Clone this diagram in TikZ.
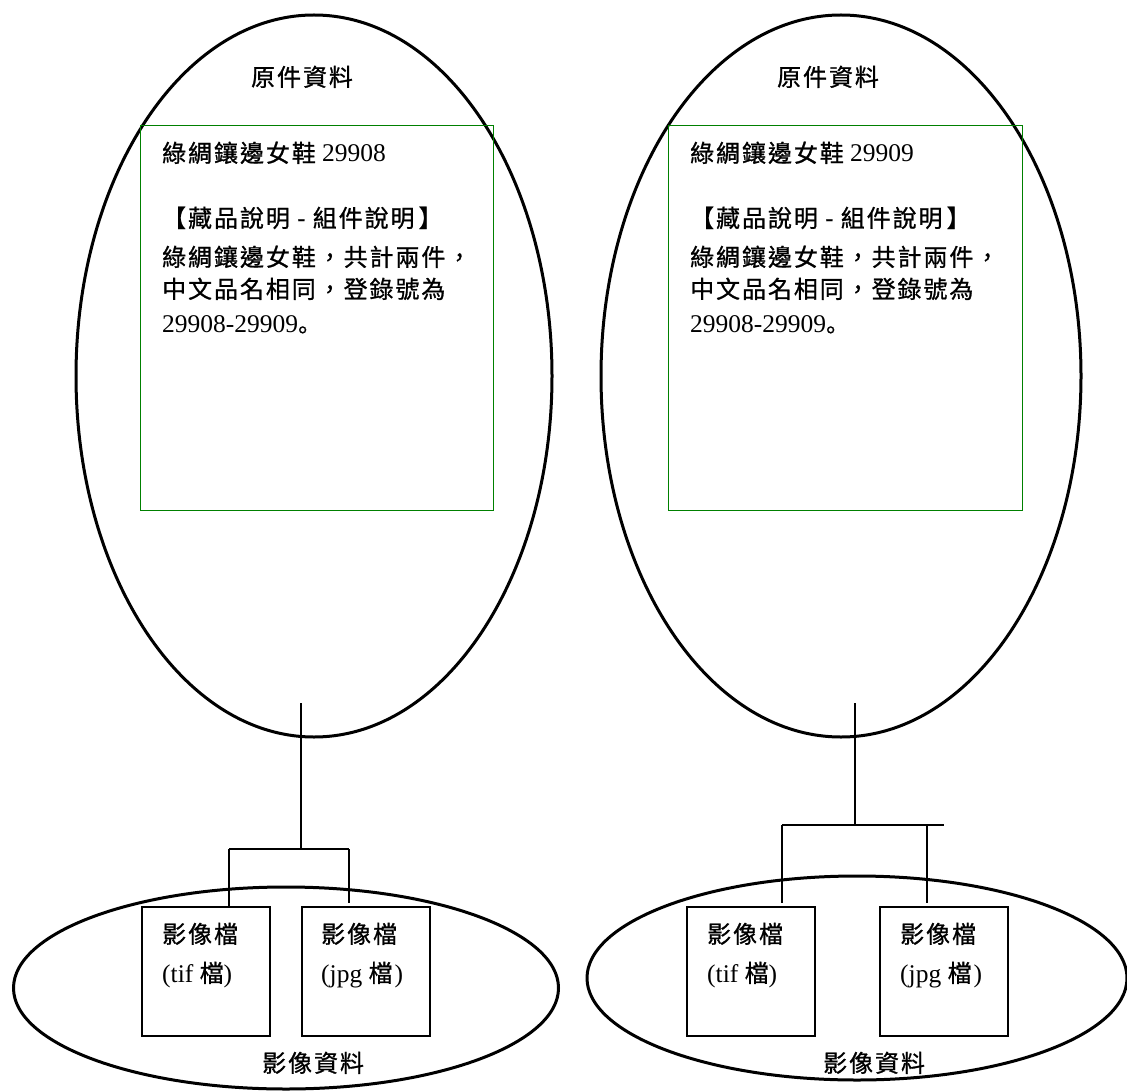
\documentclass[tikz,border=0pt]{standalone}
\usepackage{fontspec}
\setmainfont{Liberation Serif}
\newfontfamily\zhfont[LetterSpace=8,FakeBold=0.9]{Noto Sans CJK TC}
\newfontfamily\scfont[FakeBold=0.9]{Noto Sans CJK SC}
\newcommand\zh[1]{{\zhfont\fontsize{24}{30}\selectfont #1}}
\usetikzlibrary{shapes.geometric}
\definecolor{boxgreen}{RGB}{0,128,0}
\begin{document}
\begin{tikzpicture}[x=1pt,y=-1pt,
  oval/.style={draw, ellipse, line width=3pt, inner sep=0pt, outer sep=0pt},
  greenbox/.style={draw=boxgreen, line width=1.3pt, inner sep=0pt, anchor=north west},
  filebox/.style={draw, line width=1.5pt, inner sep=0pt, anchor=north west,
                  minimum width=128pt, minimum height=129pt},
  link/.style={line width=1.4pt},
  txt/.style={anchor=base west, inner sep=0pt, font=\fontsize{25.5}{30}\selectfont}]
\useasboundingbox (0,0) rectangle (1127,1091);

% big ellipses
\node[oval, minimum width=476pt, minimum height=722pt] (e1) at (314,376) {};
\node[oval, minimum width=480pt, minimum height=722pt] (e2) at (841,376) {};
% bottom ellipses
\node[oval, minimum width=545pt, minimum height=202pt] (f1) at (286,988) {};
\node[oval, minimum width=540pt, minimum height=204pt] (f2) at (857,978) {};

% titles
\node[txt, anchor=base] (h1) at (302,86) {\zh{原件資料}};
\node[txt, anchor=base] (h2) at (828,86) {\zh{原件資料}};
\node[txt] (i1) at (262,1072) {\zh{影像資料}};
\node[txt] (i2) at (823,1072) {\zh{影像資料}};

% green boxes
\node[greenbox, minimum width=353pt, minimum height=385pt] (g1) at (140,125) {};
\node[greenbox, minimum width=354pt, minimum height=385pt] (g2) at (668,125) {};

% texts in green boxes
\node[txt] (a1) at (162,162) {\zh{綠綢鑲邊女鞋} 29908};
\node[txt] (a2) at (162,227) {\zh{【藏品說明 - 組件說明\kern4pt】}};
\node[txt] (a3) at (162,266) {\zh{綠綢鑲邊女鞋，共計兩件，}};
\node[txt] (a4) at (162,298) {\zh{中文品名相同，登錄號為}};
\node[txt] (a5) at (162,332) {29908-29909{\scfont\fontsize{23}{30}\selectfont 。}};

\node[txt] (b1) at (690,162) {\zh{綠綢鑲邊女鞋} 29909};
\node[txt] (b2) at (690,227) {\zh{【藏品說明 - 組件說明\kern4pt】}};
\node[txt] (b3) at (690,266) {\zh{綠綢鑲邊女鞋，共計兩件，}};
\node[txt] (b4) at (690,298) {\zh{中文品名相同，登錄號為}};
\node[txt] (b5) at (690,332) {29908-29909{\scfont\fontsize{23}{30}\selectfont 。}};

% file boxes
\node[filebox] (lt) at (141,906) {};
\node[filebox] (lj) at (301,906) {};
\node[filebox] (rt) at (686,906) {};
\node[filebox] (rj) at (879,906) {};

\node[txt] (lt1) at (162,943) {\zh{影像檔}};
\node[txt] (lt2) at (162,982) {(tif \zh{檔})};
\node[txt] (lj1) at (321,943) {\zh{影像檔}};
\node[txt] (lj2) at (321,982) {(jpg \zh{檔}\kern2pt)};
\node[txt] (rt1) at (707,943) {\zh{影像檔}};
\node[txt] (rt2) at (707,982) {(tif \zh{檔})};
\node[txt] (rj1) at (900,943) {\zh{影像檔}};
\node[txt] (rj2) at (900,982) {(jpg \zh{檔}\kern2pt)};

% connectors left
\coordinate (l0) at (301,703);
\coordinate (l1) at (301,849);
\coordinate (la) at (229,849);
\coordinate (lb) at (349,849);
\coordinate (lbe) at (349,903);
\draw[link] (l0) -- (l1);
\draw[link] (la) -- (lb);
\draw[link] (la) -- (la |- lt.north);
\draw[link] (lb) -- (lbe);

% connectors right
\coordinate (r0) at (855,703);
\coordinate (r1) at (855,825);
\coordinate (ra) at (782,825);
\coordinate (rb) at (944,825);
\coordinate (rae) at (782,903);
\coordinate (rbm) at (927,825);
\coordinate (rbe) at (927,903);
\draw[link] (r0) -- (r1);
\draw[link] (ra) -- (rb);
\draw[link] (ra) -- (rae);
\draw[link] (rbm) -- (rbe);
\end{tikzpicture}
\end{document}
